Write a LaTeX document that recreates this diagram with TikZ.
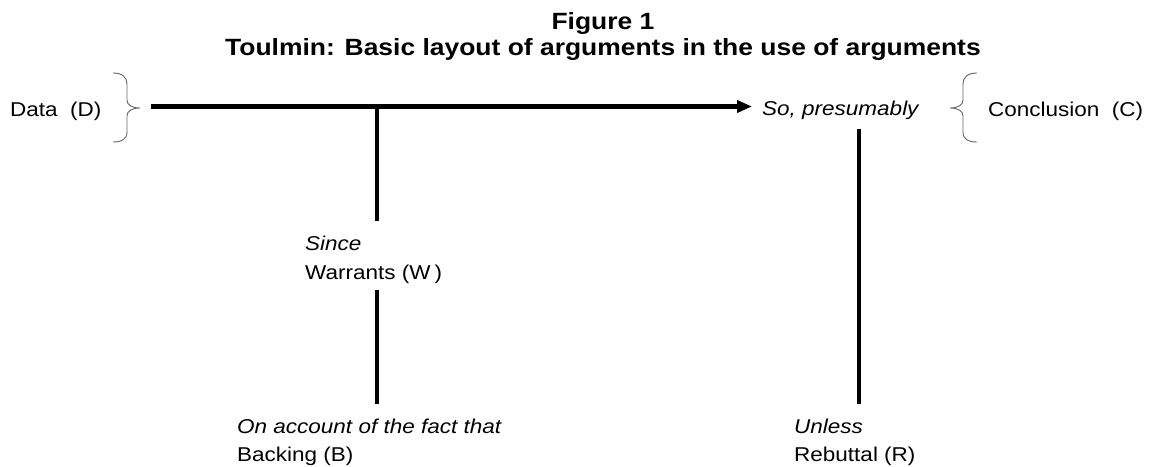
\documentclass[tikz,border=0pt]{standalone}
\usepackage{fontspec}
\setmainfont{Liberation Sans}[FakeStretch=1.125]
\usetikzlibrary{arrows.meta}
\tikzset{
  body/.style={inner sep=0pt, anchor=base west, font=\fontsize{20}{24}\selectfont},
  ital/.style={body, font=\fontsize{20}{24}\selectfont\itshape},
  ttl/.style={inner sep=0pt, anchor=base, font=\fontsize{23.5}{27}\selectfont\bfseries},
  thick line/.style={line width=4.5pt, black},
  bracepath/.style={draw=gray!80!black, line width=0.9pt},
}
\begin{document}
\begin{tikzpicture}[x=1pt, y=-1pt]
\useasboundingbox (0,0) rectangle (1150,466);
% title
\node[ttl] (title1) at (603,29) {Figure 1};
\node[ttl] (title2) at (603,55) {Toulmin: Basic layout of arguments in the use of arguments};
% text nodes
\node[body] (data) at (10,116) {Data\ \ (D)};
\node[ital] (so) at (762,115) {So, presumably};
\node[body] (concl) at (988,116) {Conclusion\ \ (C)};
\node[ital] (since) at (305,250) {Since};
\node[body] (warr) at (305,279) {Warrants (W\kern4pt)};
\node[ital] (onacc) at (237,433) {On account of the fact that};
\node[body] (back) at (237,461) {Backing (B)};
\node[ital] (unless) at (794,433) {Unless};
\node[body] (rebut) at (794,461) {Rebuttal (R)};
% braces
\draw[bracepath] (113,73) .. controls (122,73) and (127,77) .. (127,84) -- (127,100)
  .. controls (127,105) and (132,108) .. (140,108)
  .. controls (132,108) and (127,111) .. (127,116) -- (127,132)
  .. controls (127,139) and (122,142) .. (113,142);
\draw[bracepath] (977,73) .. controls (968,73) and (963,77) .. (963,84) -- (963,100)
  .. controls (963,105) and (958,108) .. (950,108)
  .. controls (958,108) and (963,111) .. (963,116) -- (963,132)
  .. controls (963,139) and (968,142) .. (977,142);
% coordinates
\coordinate (a0) at (151,106.5);
\coordinate (a1) at (752,106.5);
\coordinate (w0) at (377,106.5);
\coordinate (w1) at (377,221);
\coordinate (b0) at (377,290);
\coordinate (b1) at (377,404);
\coordinate (r0) at (859,129);
\coordinate (r1) at (859,404);
% connectors
\draw[thick line, -{Triangle[length=15pt,width=12pt]}] (a0) -- (a1);
\draw[thick line] (w0) -- (w1);
\draw[thick line] (b0) -- (b1);
\draw[thick line] (r0) -- (r1);
\end{tikzpicture}
\end{document}
